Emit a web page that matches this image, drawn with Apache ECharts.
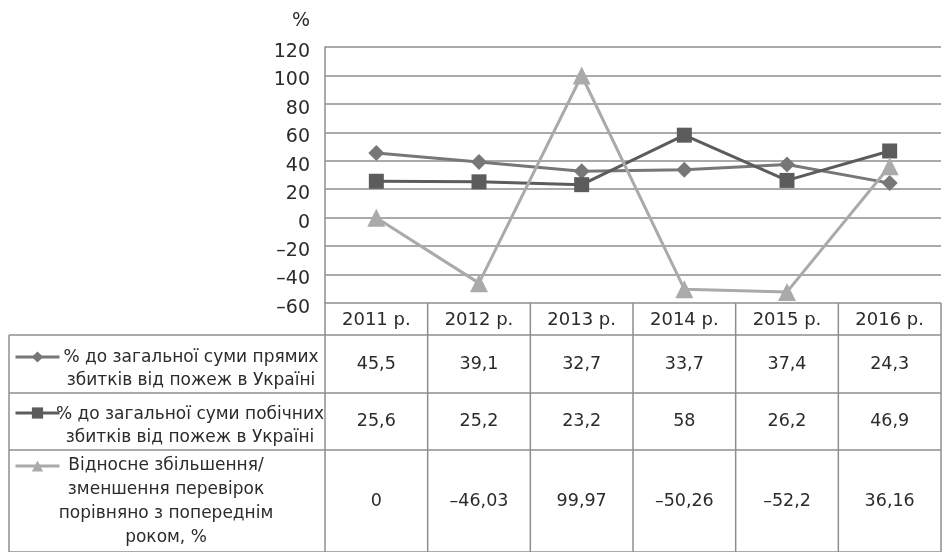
<!DOCTYPE html>
<html>
<head>
<meta charset="utf-8">
<script src="https://cdn.jsdelivr.net/npm/echarts@6/dist/echarts.min.js"></script>
<style>
  html, body { margin: 0; padding: 0; background: #fff; }
  #chart { width: 942px; height: 552px; }
</style>
</head>
<body>
<div id="chart"></div>
<script type="text/javascript">
  // data
  var years = ['2011 р.', '2012 р.', '2013 р.', '2014 р.', '2015 р.', '2016 р.'];
  var directLosses = [45.5, 39.1, 32.7, 33.7, 37.4, 24.3];
  var sideLosses = [25.6, 25.2, 23.2, 58, 26.2, 46.9];
  var inspectionsChange = [0, -46.03, 99.97, -50.26, -52.2, 36.16];
  var seriesNames = [
    '% до загальної суми прямих збитків від пожеж в Україні',
    '% до загальної суми побічних збитків від пожеж в Україні',
    'Відносне збільшення/зменшення перевірок порівняно з попереднім роком, %'
  ];
  var rowLabels = [
    '% до загальної суми прямих\nзбитків від пожеж в Україні',
    '% до загальної суми побічних\nзбитків від пожеж в Україні',
    'Відносне збільшення/\nзменшення перевірок\nпорівняно з попереднім\nроком, %'
  ];
  var yMin = -60, yMax = 120, yStep = 20;

  var FONT = '"DejaVu Sans", sans-serif';
  var TEXT = '#2b2b2b';
  var RULE = '#8e8e8e';
  var colors = ['#777777', '#5c5c5c', '#aaaaaa'];

  function fmt(v) {
    return String(v).replace('.', ',').replace('-', '–');
  }

  var myChart = echarts.init(document.getElementById('chart'));

  function legendFor(i, top) {
    return {
      data: [seriesNames[i]],
      left: 14,
      top: top,
      padding: 0,
      itemWidth: 44,
      itemHeight: 14,
      lineStyle: { width: 3 },
      formatter: function () { return ''; },
      selectedMode: false
    };
  }

  var option = {
    animation: false,
    backgroundColor: '#fff',
    color: colors,
    grid: { left: 325, right: 1, top: 47, bottom: 249 },
    legend: [legendFor(0, 350), legendFor(1, 406), legendFor(2, 459)],
    xAxis: {
      type: 'category',
      data: years,
      boundaryGap: true,
      axisLine: { show: false },
      axisTick: { show: false },
      axisLabel: { margin: 8, fontSize: 18, color: TEXT, fontFamily: FONT }
    },
    yAxis: {
      type: 'value',
      min: yMin,
      max: yMax,
      interval: yStep,
      name: '%',
      nameLocation: 'end',
      nameGap: 16,
      nameTextStyle: { fontSize: 19, color: TEXT, fontFamily: FONT, align: 'right', padding: [0, 15, 0, 0] },
      axisLine: { show: true, lineStyle: { color: RULE, width: 1.5 } },
      axisTick: { show: false },
      axisLabel: { margin: 15, color: TEXT,
        formatter: function (v) { return '{v|' + fmt(v) + '}'; },
        rich: { v: { fontSize: 19, fontFamily: FONT, color: TEXT, padding: [10, 0, 0, 0] } } },
      splitLine: { lineStyle: { color: RULE, width: 1.5 } }
    },
    series: [
      { name: seriesNames[0], type: 'line', data: directLosses, symbol: 'diamond', symbolSize: 16,
        lineStyle: { width: 3 }, itemStyle: { color: colors[0] } },
      { name: seriesNames[1], type: 'line', data: sideLosses, symbol: 'rect', symbolSize: 15,
        lineStyle: { width: 3 }, itemStyle: { color: colors[1] } },
      { name: seriesNames[2], type: 'line', data: inspectionsChange, symbol: 'triangle', symbolSize: 18,
        lineStyle: { width: 3 }, itemStyle: { color: colors[2] } }
    ]
  };

  myChart.setOption(option);

  // table under the plot, aligned with the category axis
  var cx = years.map(function (y, i) { return myChart.convertToPixel({ xAxisIndex: 0 }, i); });
  var half = (cx[1] - cx[0]) / 2;
  var bounds = [cx[0] - half].concat(cx.map(function (c) { return c + half; }));
  var tableTop = myChart.convertToPixel({ yAxisIndex: 0 }, yMin);
  var rowLines = [335, 393, 450, 552];
  var tableLeft = 9;
  var tableRight = bounds[bounds.length - 1];

  var g = [];
  function line(x1, y1, x2, y2) {
    g.push({ type: 'line', shape: { x1: x1, y1: y1, x2: x2, y2: y2 },
      style: { stroke: RULE, lineWidth: 1.5 }, silent: true });
  }
  bounds.forEach(function (b) { line(b, tableTop, b, 552); });
  line(tableLeft, rowLines[0], tableLeft, 552);
  rowLines.forEach(function (y) { line(tableLeft, y, tableRight, y); });

  var rowData = [directLosses, sideLosses, inspectionsChange];
  var labelX = [191, 190, 166];
  var labelLH = [23, 23, 24];
  rowData.forEach(function (vals, r) {
    var mid = (rowLines[r] + rowLines[r + 1]) / 2;
    var labelMid = r < 2 ? mid + 5 : mid + 1;
    g.push({ type: 'text', silent: true,
      style: { text: rowLabels[r], x: labelX[r], y: labelMid, align: 'center', verticalAlign: 'middle',
        fontSize: 17, fontFamily: FONT, fill: TEXT, lineHeight: labelLH[r] } });
    vals.forEach(function (v, i) {
      g.push({ type: 'text', silent: true,
        style: { text: fmt(v), x: cx[i], y: mid, align: 'center', verticalAlign: 'middle',
          fontSize: 17.5, fontFamily: FONT, fill: TEXT } });
    });
  });

  myChart.setOption({ graphic: g });

  window.addEventListener('resize', myChart.resize);
</script>
</body>
</html>
